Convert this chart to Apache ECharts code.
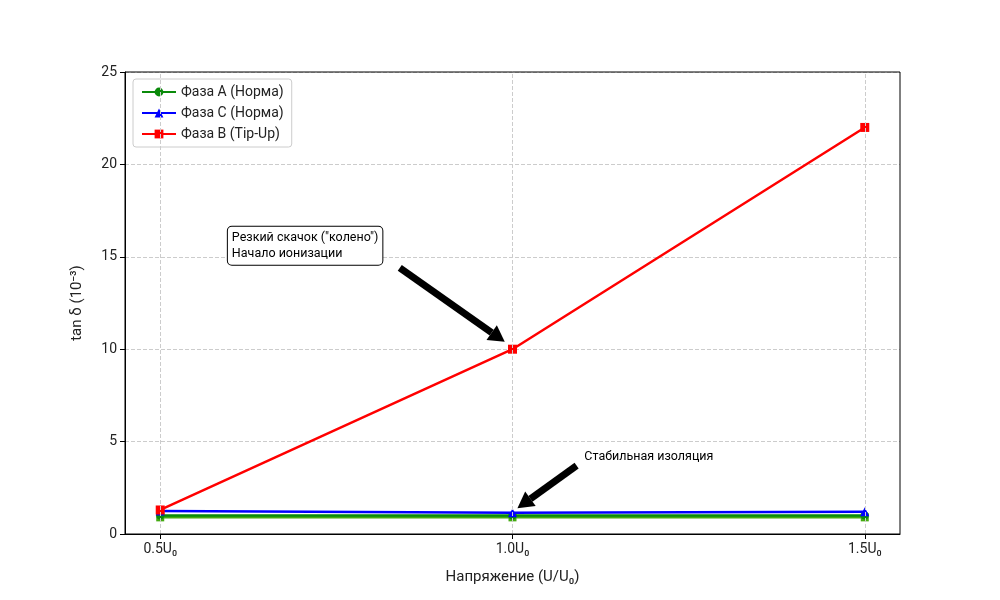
<!DOCTYPE html>
<html>
<head>
<meta charset="utf-8">
<script src="https://cdn.jsdelivr.net/npm/echarts@6/dist/echarts.min.js"></script>
<style>html,body{margin:0;padding:0;background:#fff}#c{width:1000px;height:600px}</style>
</head>
<body>
<div id="c"></div>
<script>
const xVals = [0.5, 1.0, 1.5];
const xLabels = {0.5: '0.5U₀', 1: '1.0U₀', 1.5: '1.5U₀'};
const phaseA = [1.0, 1.0, 1.0];
const phaseC = [1.25, 1.15, 1.2];
const phaseB = [1.3, 10, 22];
const phaseExtra = [0.9, 0.9, 0.9];

const chart = echarts.init(document.getElementById('c'));
const font = 'Roboto, "DejaVu Sans", sans-serif';

function mk(name, vals, color, symbol, size, z) {
    return {
        name: name, type: 'line', data: vals.map((v, i) => [xVals[i], v]),
        symbol: symbol, symbolSize: size, color: color, z: z,
        lineStyle: {color: color, width: 2.5}, itemStyle: {color: color}
    };
}

chart.setOption({
    animation: false,
    textStyle: {fontFamily: font},
    grid: {left: 125, right: 100, top: 72, bottom: 66},
    legend: {
        left: 133, top: 79, orient: 'vertical', itemGap: 7,
        backgroundColor: '#fff', borderColor: '#ccc', borderWidth: 1, borderRadius: 3,
        padding: [6, 8], itemWidth: 34, itemHeight: 11,
        textStyle: {fontSize: 14, color: '#222'},
        data: ['Фаза A (Норма)', 'Фаза C (Норма)', 'Фаза B (Tip-Up)']
    },
    xAxis: {
        type: 'value', min: 0.45, max: 1.55, interval: 0.05,
        name: 'Напряжение (U/U₀)', nameLocation: 'middle', nameGap: 36,
        nameTextStyle: {fontSize: 15, color: '#222'},
        axisLine: {onZero: false, lineStyle: {color: '#000'}},
        axisTick: {customValues: xVals, length: 5, lineStyle: {color: '#000'}},
        axisLabel: {customValues: xVals, fontSize: 14, color: '#222', formatter: v => xLabels[+v.toFixed(2)] || ''},
        splitLine: {show: false}
    },
    yAxis: {
        type: 'value', min: 0, max: 25, interval: 5,
        name: 'tan δ (10⁻³)', nameLocation: 'middle', nameGap: 40,
        nameTextStyle: {fontSize: 15, color: '#222'},
        axisLine: {show: true, lineStyle: {color: '#000'}},
        axisTick: {show: true, length: 5, lineStyle: {color: '#000'}},
        axisLabel: {fontSize: 14, color: '#222'},
        splitLine: {lineStyle: {color: '#ccc', type: 'dashed'}}
    },
    series: [
        mk('', phaseExtra, '#44aa11', 'rect', 8, 1),
        mk('Фаза A (Норма)', phaseA, '#0a8a0a', 'circle', 8, 2),
        mk('Фаза C (Норма)', phaseC, '#0000ff', 'triangle', 9, 3),
        mk('Фаза B (Tip-Up)', phaseB, '#ff0000', 'rect', 9, 4),
        {type: 'line', data: xVals.map(x => [x, 0]), showSymbol: false, lineStyle: {opacity: 0},
         markLine: {silent: true, symbol: 'none', label: {show: false},
            lineStyle: {color: '#ccc', type: 'dashed', width: 1}, data: xVals.map(x => ({xAxis: x}))}}
    ]
});

// annotations in data coordinates
const notes = [
    {text: 'Резкий скачок ("колено")\nНачало ионизации', at: [0.596, 15.6], from: [0.840, 14.4], to: [0.989, 10.4], box: true},
    {text: 'Стабильная изоляция', at: [1.102, 4.2], from: [1.091, 3.7], to: [1.007, 1.4], box: false}
];
const g = [];
notes.forEach(n => {
    const p = chart.convertToPixel('grid', n.at);
    const a = chart.convertToPixel('grid', n.from);
    const b = chart.convertToPixel('grid', n.to);
    g.push({type: 'text', x: p[0], y: p[1], style: {
        text: n.text, fontSize: 12.5, fill: '#000', fontFamily: font, lineHeight: 16,
        verticalAlign: 'middle', padding: n.box ? [3, 4] : 0,
        backgroundColor: n.box ? '#fff' : null, borderColor: n.box ? '#000' : null,
        borderWidth: n.box ? 1 : 0, borderRadius: n.box ? 4 : 0}, z: 10});
    const dx = b[0] - a[0], dy = b[1] - a[1], L = Math.hypot(dx, dy);
    const ux = dx / L, uy = dy / L, hl = 16, hw = 9;
    const bx = b[0] - ux * hl, by = b[1] - uy * hl;
    g.push({type: 'line', shape: {x1: a[0], y1: a[1], x2: bx, y2: by}, style: {stroke: '#000', lineWidth: 7}, z: 10});
    g.push({type: 'polygon', shape: {points: [b, [bx - uy * hw, by + ux * hw], [bx + uy * hw, by - ux * hw]]}, style: {fill: '#000'}, z: 10});
});
g.push({type: 'rect', shape: {x: 125, y: 72, width: 775, height: 462}, style: {fill: null, stroke: '#000', lineWidth: 1}, z: 5, silent: true});
chart.setOption({graphic: g});
</script>
</body>
</html>
